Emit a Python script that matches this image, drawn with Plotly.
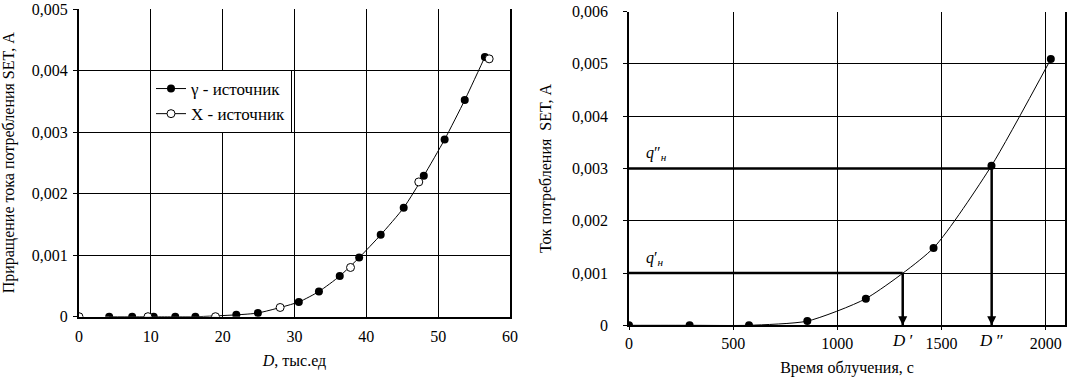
import plotly.graph_objects as go

# ---------------- data ----------------
# Left chart: increase of SET supply current vs dose
gamma_D = [4.2, 7.4, 10.4, 13.4, 16.2, 21.9, 24.9, 30.6, 33.4, 36.3, 39.0, 42.0, 45.2, 48.0, 50.9, 53.7, 56.5]
gamma_I = [0.0, 0.0, 0.0, 0.0, 0.0, 0.00003, 0.00006, 0.00024, 0.00041, 0.00066, 0.00096, 0.00133, 0.00177, 0.00229, 0.00288, 0.00352, 0.00422]
xray_D = [0.0, 9.6, 19.0, 28.0, 37.8, 47.3, 57.1]
xray_I = [0.0, 0.0, 0.0, 0.00015, 0.00080, 0.00219, 0.00419]

left_xticks = [0, 10, 20, 30, 40, 50, 60]
left_yticks = [0, 0.001, 0.002, 0.003, 0.004, 0.005]
left_yticktext = ["0", "0,001", "0,002", "0,003", "0,004", "0,005"]

# Right chart: SET supply current vs irradiation time
time_s = [0, 291, 576, 856, 1137, 1462, 1740, 2025]
current_A = [0.0, 0.0, 0.0, 0.00008, 0.00051, 0.00148, 0.00305, 0.00509]
q_levels = [0.001, 0.003]
q_labels = ["<i>q</i>′<sub><i>н</i></sub>", "<i>q</i>″<sub><i>н</i></sub>"]
D_points = [1314, 1741]
D_labels = ["<i>D</i> ′", "<i>D</i> ″"]

right_xticks = [0, 500, 1000, 1500, 2000]
right_yticks = [0, 0.001, 0.002, 0.003, 0.004, 0.005, 0.006]
right_yticktext = ["0", "0,001", "0,002", "0,003", "0,004", "0,005", "0,006"]

FONT = "Liberation Serif"
FS = 16
W, H = 1067, 379

fig = go.Figure()

line_style = dict(color="black", width=1, shape="spline", smoothing=0.6)

# left chart: curve through the gamma points, open X markers on top
fig.add_trace(go.Scatter(
    x=gamma_D, y=gamma_I, mode="lines+markers", name="γ - источник",
    line=line_style, marker=dict(symbol="circle", size=8, color="black"),
    xaxis="x", yaxis="y"))
fig.add_trace(go.Scatter(
    x=xray_D, y=xray_I, mode="markers", name="X - источник", showlegend=False,
    legendgroup="xray",
    marker=dict(symbol="circle", size=8, color="white", line=dict(color="black", width=1)),
    xaxis="x", yaxis="y"))
# legend entry for the X series (line + open marker)
fig.add_trace(go.Scatter(
    x=[None], y=[None], mode="lines+markers", name="X - источник", legendgroup="xray",
    line=dict(color="black", width=1),
    marker=dict(symbol="circle", size=8, color="white", line=dict(color="black", width=1)),
    xaxis="x", yaxis="y"))

# right chart trace
fig.add_trace(go.Scatter(
    x=time_s, y=current_A, mode="lines+markers", showlegend=False,
    line=line_style, marker=dict(symbol="circle", size=8, color="black"),
    xaxis="x2", yaxis="y2"))

# arrow heads at the dose points
fig.add_trace(go.Scatter(
    x=D_points, y=[0] * len(D_points), mode="markers", showlegend=False, hoverinfo="skip",
    marker=dict(symbol="arrow-down", size=9, color="black", line=dict(width=0)),
    xaxis="x2", yaxis="y2", cliponaxis=False))

shapes = []
annotations = []
for q, d, ql, dl in zip(q_levels, D_points, q_labels, D_labels):
    shapes.append(dict(type="line", xref="x2", yref="y2", x0=0, x1=d, y0=q, y1=q,
                       line=dict(color="black", width=2.5)))
    shapes.append(dict(type="line", xref="x2", yref="y2", x0=d, x1=d, y0=q, y1=0,
                       line=dict(color="black", width=2.5)))
    annotations.append(dict(xref="x2", yref="y2", x=74, y=q, text=ql, showarrow=False,
                            xanchor="left", yanchor="bottom", yshift=3,
                            font=dict(family=FONT, size=FS, color="black")))
    annotations.append(dict(xref="x2", yref="paper", x=d, y=1 - 340 / H, text=dl,
                            showarrow=False, xanchor="center", yanchor="middle",
                            font=dict(family=FONT, size=FS + 1, color="black")))

tickfont = dict(family=FONT, size=FS, color="black")
titlefont = dict(family=FONT, size=FS, color="black")

fig.update_layout(
    width=W, height=H,
    margin=dict(l=0, r=0, t=0, b=0),
    paper_bgcolor="white", plot_bgcolor="white",
    font=dict(family=FONT, size=FS, color="black"),
    showlegend=True,
    legend=dict(x=150 / W, y=1 - 70 / H, xanchor="left", yanchor="top",
                bordercolor="black", borderwidth=1, bgcolor="white",
                font=dict(family=FONT, size=17, color="black"),
                tracegroupgap=0, itemwidth=30),
    xaxis=dict(domain=[79 / W, 510 / W], range=[0, 60], tickvals=left_xticks,
               showgrid=True, gridcolor="black", gridwidth=1,
               showline=True, linecolor="black", linewidth=2, mirror=False,
               zeroline=False, tickfont=tickfont, ticks="", ticklabelstandoff=4,
               ticklabeloverflow="allow", automargin=False, anchor="y",
               title=dict(text="<i>D</i>, тыс.ед", font=titlefont, standoff=11)),
    yaxis=dict(domain=[1 - 316.7 / H, 1 - 9 / H], range=[0, 0.005],
               tickvals=left_yticks, ticktext=left_yticktext,
               showgrid=True, gridcolor="black", gridwidth=1,
               showline=True, linecolor="black", linewidth=2, mirror=True,
               zeroline=False, tickfont=tickfont, ticks="outside", ticklen=4,
               tickcolor="black", ticklabelstandoff=2, ticklabeloverflow="allow",
               automargin=False, anchor="x",
               title=dict(text="Приращение тока потребления SET, А", font=titlefont, standoff=14)),
    xaxis2=dict(domain=[629 / W, 1065 / W], range=[0, 2093], tickvals=right_xticks,
                showgrid=True, gridcolor="black", gridwidth=1,
                showline=True, linecolor="black", linewidth=1.5, mirror=False,
                zeroline=False, tickfont=tickfont, ticks="outside", ticklen=3,
                tickcolor="black", ticklabelstandoff=0, ticklabeloverflow="allow",
                automargin=False, anchor="y2",
                title=dict(text="Время облучения, с", font=titlefont, standoff=11)),
    yaxis2=dict(domain=[1 - 325.3 / H, 1 - 11.5 / H], range=[0, 0.006],
                tickvals=right_yticks, ticktext=right_yticktext,
                showgrid=True, gridcolor="black", gridwidth=1,
                showline=True, linecolor="black", linewidth=1.5, mirror=True,
                zeroline=False, tickfont=tickfont, ticks="outside", ticklen=4,
                tickcolor="black", ticklabelstandoff=12, ticklabeloverflow="allow",
                automargin=False, anchor="x2",
                title=dict(text="Ток потребления  SET, А", font=titlefont, standoff=16)),
    shapes=shapes,
    annotations=annotations,
)

fig.write_html("out.html", config={"displayModeBar": False},
               post_script="document.body.style.margin='0px';")
